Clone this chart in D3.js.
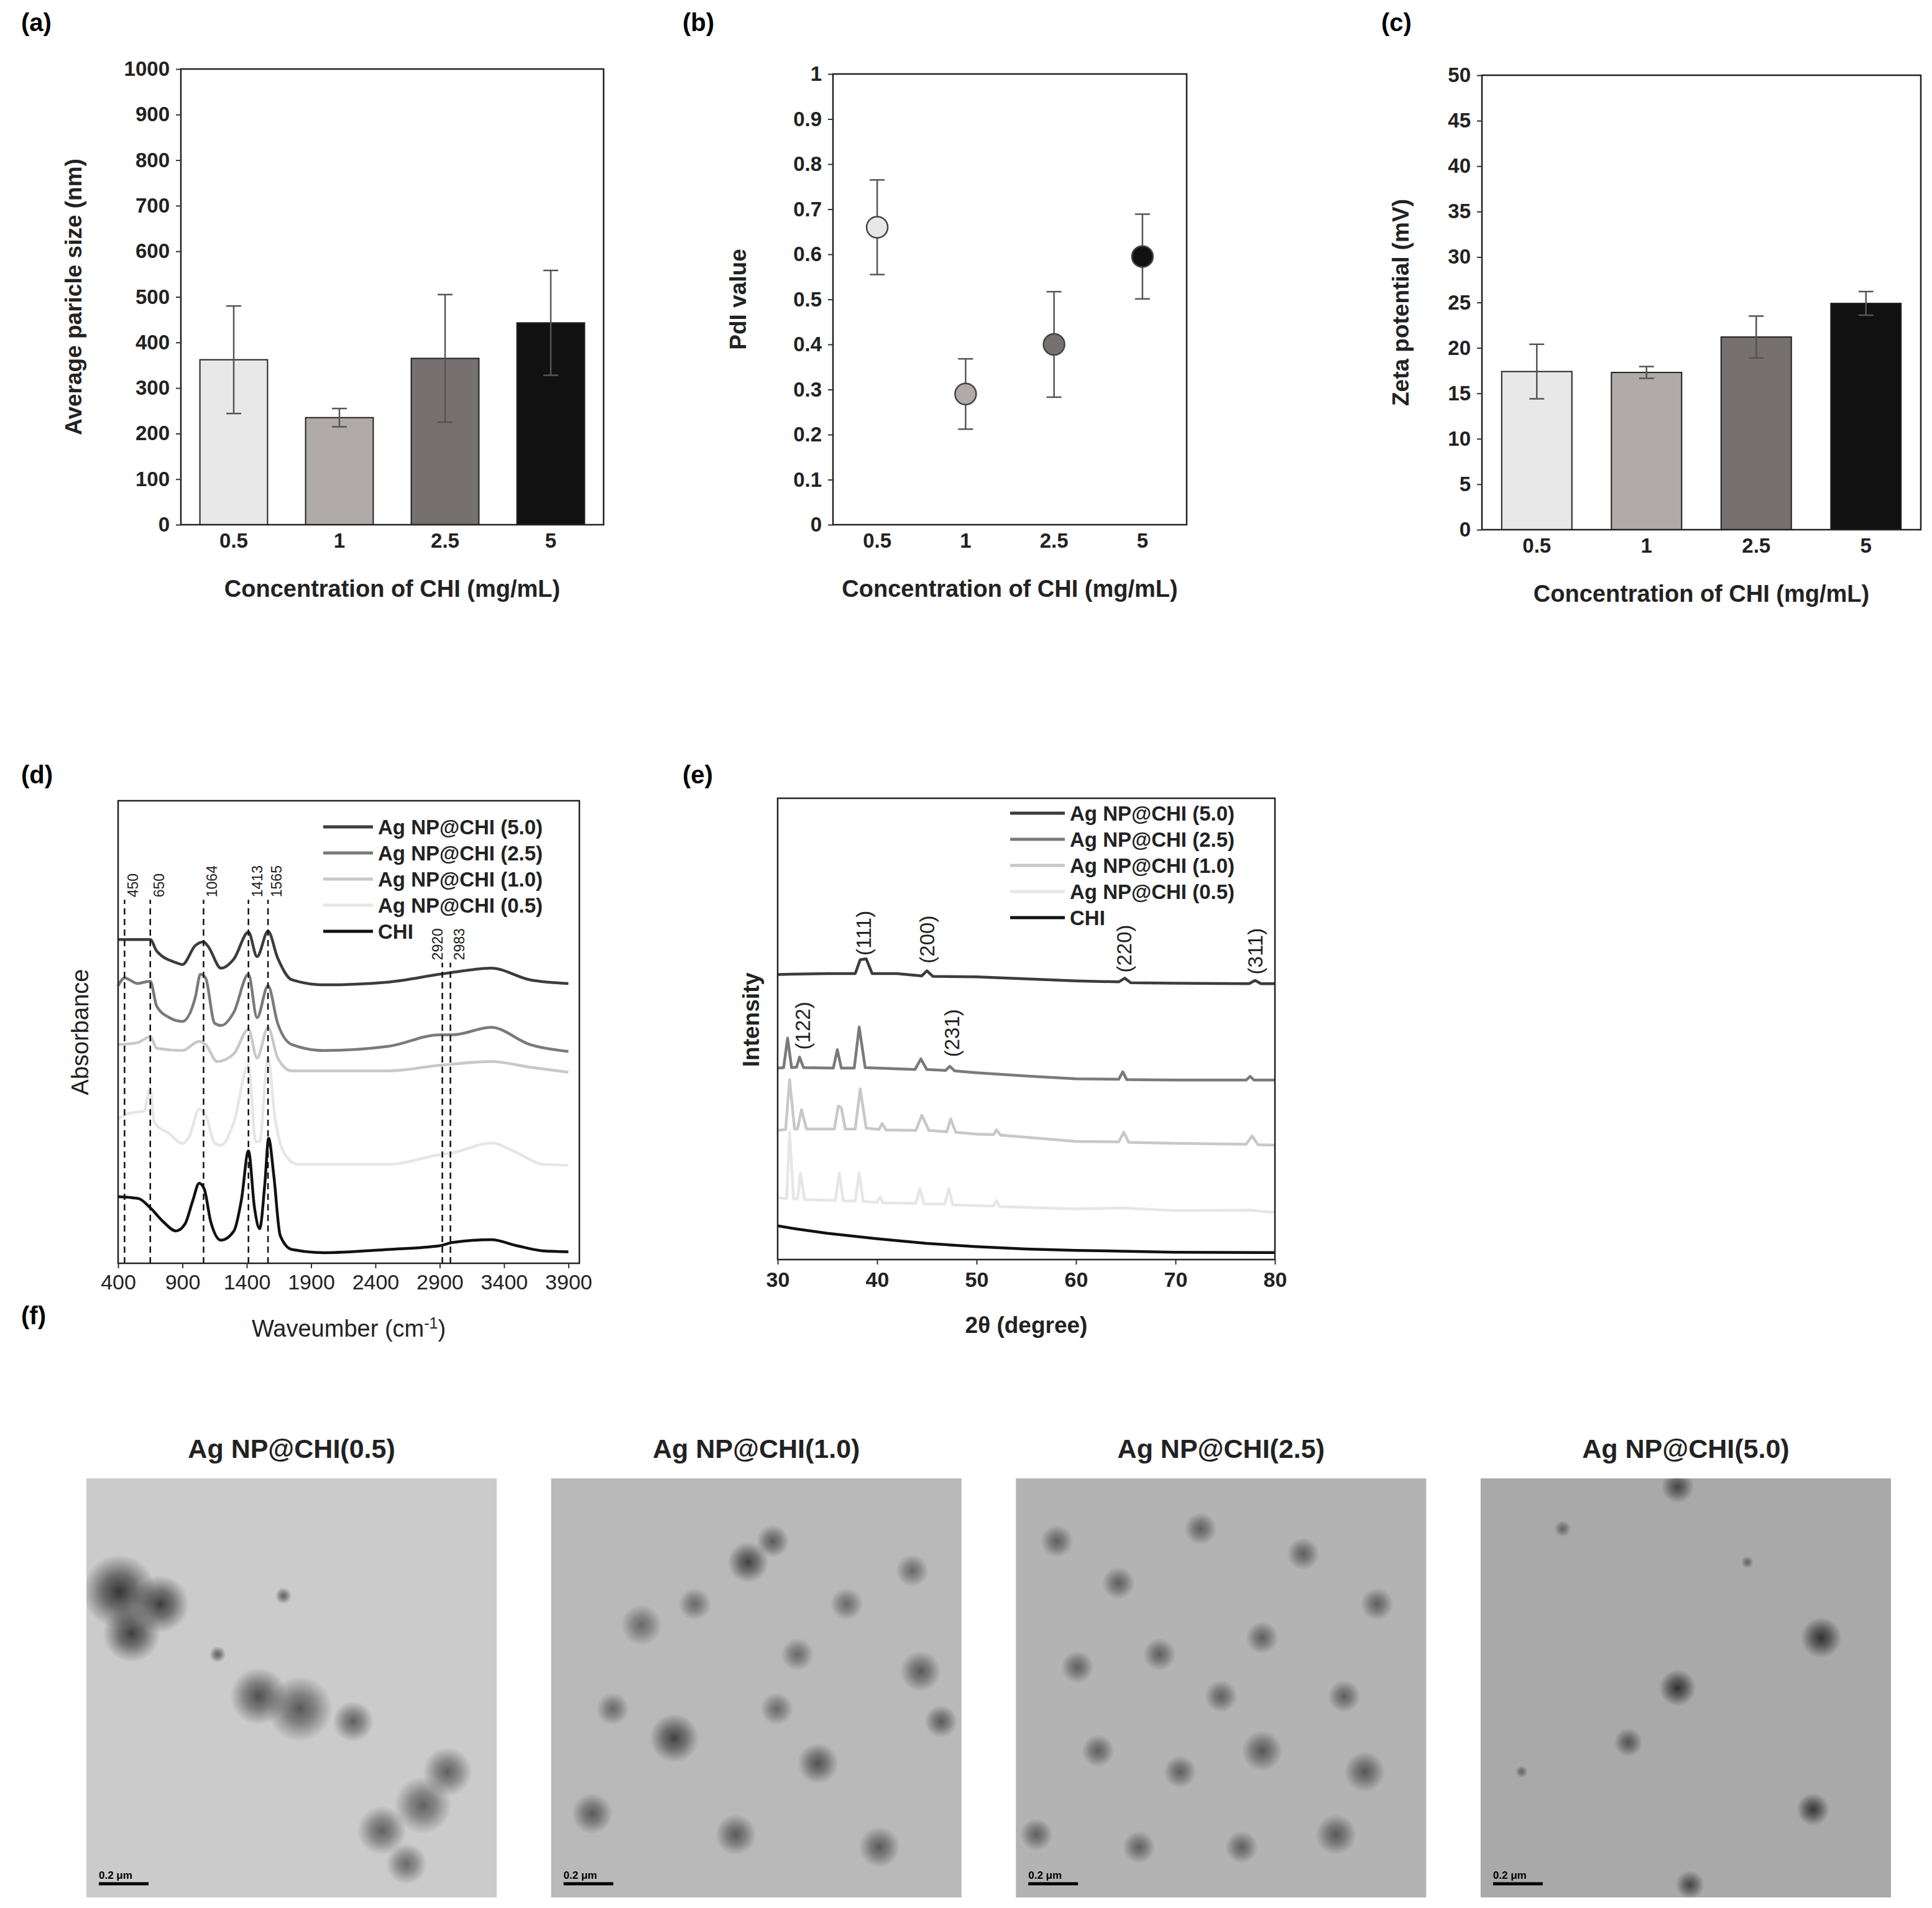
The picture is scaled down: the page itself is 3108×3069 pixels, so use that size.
<!DOCTYPE html>
<html><head><meta charset="utf-8">
<script src="https://cdn.jsdelivr.net/npm/d3@7"></script>
<style>body{margin:0;background:#fff}text{font-family:"Liberation Sans",Arial,sans-serif}</style>
</head><body><svg id="fig"></svg>
<script>
// ---- data ----
var concLabels = ["0.5", "1", "2.5", "5"];
var barColors = ["#e8e8e8", "#b0aaa8", "#767070", "#111111"];
var sizeMean = [362, 235, 365, 443];
var sizeErr = [118, 20, 140, 115];
var pdiMean = [0.66, 0.29, 0.40, 0.595];
var pdiErr = [0.105, 0.078, 0.117, 0.094];
var zetaMean = [17.4, 17.3, 21.2, 24.9];
var zetaErr = [3.0, 0.65, 2.3, 1.3];

var seriesNames = ["Ag NP@CHI (5.0)", "Ag NP@CHI (2.5)", "Ag NP@CHI (1.0)", "Ag NP@CHI (0.5)", "CHI"];
var seriesColors = ["#3c3c3c", "#7a7a7a", "#c8c8c8", "#e6e6e6", "#111111"];

// FTIR (wavenumber, absorbance a.u.)
var ftir50 = [[400,70],[600,70],[650,70],[700,67.5],[850,65],[900,64.6],[1000,68.7],[1064,69.5],[1100,68.5],[1200,63.8],[1300,65.8],[1413,71.6],[1480,66.3],[1565,71.8],[1640,66],[1750,61.3],[2000,60.2],[2500,60.8],[2900,62.5],[3000,62.9],[3300,63.8],[3600,61.3],[3900,60.5]];
var ftir25 = [[400,60],[450,61.7],[550,60.5],[650,61],[700,55.6],[800,53.1],[900,52.3],[1000,57.5],[1040,62.5],[1080,61.7],[1150,51.9],[1200,51.4],[1300,54.3],[1413,62.5],[1480,53.1],[1565,60],[1640,51.9],[1750,47.3],[2000,46],[2500,46.9],[2900,49.4],[3000,49.4],[3300,51],[3600,47.3],[3900,45.8]];
var ftir10 = [[400,47.3],[550,47.7],[650,49],[700,46.5],[900,46],[1030,48],[1080,47.3],[1170,43.6],[1300,45.3],[1413,50.6],[1480,44.4],[1565,51],[1640,44.4],[1750,41.6],[2500,41.6],[2900,42.8],[3300,43.6],[3600,42.4],[3900,41.3]];
var ftir05 = [[400,31.3],[500,32.5],[600,32.9],[650,37.9],[680,30.5],[800,28],[900,25.9],[950,27.2],[1030,33.3],[1080,32.1],[1150,26],[1200,25.5],[1300,30.5],[1413,42.8],[1470,26.3],[1500,26.3],[1565,44.4],[1620,31.3],[1700,23.4],[1800,21.4],[2500,21.4],[2900,23.5],[3000,23.9],[3300,26],[3500,23.9],[3700,21.4],[3900,21.2]];
var ftirCHI = [[400,14.4],[500,14.2],[560,14],[650,12],[750,9],[850,7],[920,8.5],[980,13.5],[1030,17.3],[1070,16],[1120,9],[1200,5],[1300,7],[1360,14],[1413,24.3],[1460,12],[1500,7.5],[1540,17],[1570,27],[1610,19],[1660,6],[1750,3],[2000,2.3],[2500,3],[2900,3.8],[3000,4.5],[3300,5.1],[3500,3.8],[3700,2.7],[3900,2.5]];
var ftirMarks = [450, 650, 1064, 1413, 1565];
var ftirMarksHigh = [2920, 2983];

// XRD (2theta, intensity a.u.)
var xrd50 = [[30,61.8],[35,62],[37.8,62],[38.3,65],[38.9,65.2],[39.5,62],[42,62],[44.5,61.5],[45,62.6],[45.6,61.4],[50,61.3],[60,60.4],[64.3,60.2],[64.9,61],[65.5,60],[70,59.9],[77.4,59.8],[78,60.5],[78.6,59.8],[80,59.8]];
var xrd25 = [[30,41.5],[30.6,41.6],[31,48],[31.4,41.6],[31.9,41.7],[32.2,43.9],[32.6,41.6],[35.6,41.5],[36,45.5],[36.4,41.5],[37.7,41.5],[38.2,50.4],[38.8,41.6],[43.8,41.2],[44.4,43.5],[45,41.2],[46.9,41],[47.3,41.9],[47.8,40.9],[50,40.5],[55,39.8],[60,39.2],[64.3,39.1],[64.7,40.7],[65.1,39],[70,38.9],[77.1,38.9],[77.5,39.7],[77.9,38.9],[80,38.9]];
var xrd10 = [[30,28],[30.8,28.2],[31.2,39],[31.7,28.3],[32,28.3],[32.4,32.5],[32.9,28.3],[35.7,28.3],[36.1,33.3],[36.4,32.9],[36.8,28.3],[37.8,28.3],[38.3,37],[38.9,28.5],[40.2,28.2],[40.5,29.5],[40.9,28.1],[43.9,28],[44.5,31.3],[45.2,28],[47,27.7],[47.4,30.5],[47.9,27.6],[50,27.2],[51.7,27.1],[52,28.1],[52.4,27],[60,25.6],[64.3,25.5],[64.8,27.6],[65.3,25.4],[70,25.2],[77.1,25],[77.7,26.8],[78.3,24.9],[80,24.8]];
var xrd05 = [[30,13.4],[30.9,13.2],[31.2,27.6],[31.6,13.2],[32,13.1],[32.3,18.7],[32.7,13],[35.8,12.8],[36.2,18.7],[36.6,12.7],[37.8,12.7],[38.2,18.7],[38.6,12.6],[40,12.4],[40.3,13.6],[40.6,12.3],[43.9,12.2],[44.3,15.4],[44.7,12.1],[46.8,12],[47.2,15.4],[47.6,11.9],[50,11.7],[51.7,11.6],[52,12.8],[52.3,11.5],[60,11],[64.7,11.2],[70,10.6],[77.5,10.7],[80,10.2]];
var xrdCHI = [[30,7.3],[32,6.6],[35,5.7],[40,4.5],[45,3.5],[50,2.8],[55,2.3],[60,2],[70,1.6],[80,1.5]];
var xrdPeaks = [["(111)",38.6,65.9],["(200)",45,64.2],["(220)",64.8,62.2],["(311)",78,61.8],["(122)",32.5,45.5],["(231)",47.5,43.9]];

// TEM panels: title, background grey, dark particle clusters [x%, y%, radius%, opacity]
var temTitles = ["Ag NP@CHI(0.5)", "Ag NP@CHI(1.0)", "Ag NP@CHI(2.5)", "Ag NP@CHI(5.0)"];
var temBackground = ["#cbcbcb", "#b9b9b9", "#b3b3b3", "#a9a9a9"];
var temBlobs = [
  [[8,27,9,0.85],[18,30,7,0.8],[11,37,7,0.8],[42,52,7,0.7],[52,55,8,0.65],[65,58,5,0.6],[88,70,6,0.6],[82,78,7,0.6],[72,84,6,0.6],[78,92,5,0.55],[48,28,2,0.6],[32,42,2,0.6]],
  [[48,20,5,0.75],[54,15,4,0.6],[88,22,4,0.5],[22,35,5,0.5],[60,42,4,0.5],[30,62,6,0.75],[65,68,5,0.65],[90,46,5,0.6],[95,58,4,0.6],[10,80,5,0.6],[45,85,5,0.6],[80,88,5,0.6],[35,30,4,0.5],[72,30,4,0.5],[15,55,4,0.5],[55,55,4,0.5]],
  [[10,15,4,0.55],[25,25,4,0.55],[45,12,4,0.55],[70,18,4,0.55],[88,30,4,0.55],[15,45,4,0.55],[35,42,4,0.55],[60,38,4,0.55],[80,52,4,0.55],[20,65,4,0.55],[40,70,4,0.55],[60,65,5,0.6],[85,70,5,0.6],[30,88,4,0.55],[55,88,4,0.55],[78,85,5,0.6],[50,52,4,0.55],[5,85,4,0.55]],
  [[48,2,4,0.7],[83,38,5,0.85],[48,50,4.5,0.85],[36,63,3.5,0.6],[81,79,4,0.8],[51,97,3.5,0.7],[20,12,2,0.5],[65,20,1.5,0.5],[10,70,1.5,0.5]]
];

// ---- drawing ----
var W = 3108, H = 3069;
var FONT = '"Liberation Sans",Arial,sans-serif';
var svg = d3.select("#fig").attr("width", W).attr("height", H);
svg.append("rect").attr("width", W).attr("height", H).attr("fill", "#fff");

function panelLabel(t, x, y) {
  svg.append("text").attr("x", x).attr("y", y).attr("font-size", 40).attr("font-weight", "bold").text(t);
}

function styleAxis(g, bold, size) {
  g.selectAll("text").attr("font-size", size).attr("font-weight", bold ? "bold" : "normal").attr("fill", "#222")
    .style("font-family", FONT);
  g.selectAll("line,path").attr("stroke", "#333").attr("stroke-width", 2);
}

function frame(g, w, h) {
  g.append("rect").attr("width", w).attr("height", h).attr("fill", "none").attr("stroke", "#222").attr("stroke-width", 2.5);
}

function errorBars(g, x, y, means, errs, cap) {
  var eg = g.append("g").attr("stroke", "#555").attr("stroke-width", 2.5);
  means.forEach(function(m, i) {
    var cx = x(concLabels[i]) + x.bandwidth() / 2;
    eg.append("line").attr("x1", cx).attr("x2", cx).attr("y1", y(m - errs[i])).attr("y2", y(m + errs[i]));
    [m - errs[i], m + errs[i]].forEach(function(v) {
      eg.append("line").attr("x1", cx - cap).attr("x2", cx + cap).attr("y1", y(v)).attr("y2", y(v));
    });
  });
}

function catPanel(opt) {
  var w = opt.x1 - opt.x0, h = opt.y1 - opt.y0;
  var g = svg.append("g").attr("transform", "translate(" + opt.x0 + "," + opt.y0 + ")");
  var x = d3.scaleBand().domain(concLabels).range([0, w]).paddingInner(0.36).paddingOuter(0.18);
  var y = d3.scaleLinear().domain([0, opt.max]).range([h, 0]);
  if (opt.type === "bar") {
    g.selectAll(".bar").data(opt.mean).enter().append("rect")
      .attr("x", function(d, i) { return x(concLabels[i]); })
      .attr("y", function(d) { return y(d); })
      .attr("width", x.bandwidth()).attr("height", function(d) { return h - y(d); })
      .attr("fill", function(d, i) { return barColors[i]; })
      .attr("stroke", "#222").attr("stroke-width", 2);
    errorBars(g, x, y, opt.mean, opt.err, 12);
  } else {
    errorBars(g, x, y, opt.mean, opt.err, 12);
    g.selectAll(".dot").data(opt.mean).enter().append("circle")
      .attr("cx", function(d, i) { return x(concLabels[i]) + x.bandwidth() / 2; })
      .attr("cy", function(d) { return y(d); }).attr("r", 17)
      .attr("fill", function(d, i) { return barColors[i]; })
      .attr("stroke", "#444").attr("stroke-width", 2.5);
  }
  frame(g, w, h);
  var ya = g.append("g").call(d3.axisLeft(y).ticks(10).tickSize(8).tickFormat(opt.fmt).tickPadding(10));
  styleAxis(ya, true, 33);
  ya.select(".domain").remove();
  var xa = g.append("g").attr("transform", "translate(0," + h + ")").call(d3.axisBottom(x).tickSize(0).tickPadding(14));
  styleAxis(xa, true, 33);
  xa.select(".domain").remove();
  g.append("text").attr("x", w / 2).attr("y", h + 116).attr("text-anchor", "middle")
    .attr("font-size", 38).attr("font-weight", "bold").attr("fill", "#222").text("Concentration of CHI (mg/mL)");
  g.append("text").attr("transform", "translate(" + (-opt.ytOff) + "," + (h / 2) + ") rotate(-90)")
    .attr("text-anchor", "middle").attr("font-size", 37).attr("font-weight", "bold").attr("fill", "#222").text(opt.ytitle);
}

panelLabel("(a)", 34, 50);
catPanel({x0: 291, x1: 971, y0: 111, y1: 844, type: "bar", max: 1000, mean: sizeMean, err: sizeErr,
  fmt: d3.format("d"), ytitle: "Average paricle size (nm)", ytOff: 160});
panelLabel("(b)", 1098, 50);
catPanel({x0: 1340, x1: 1909, y0: 119, y1: 844, type: "dot", max: 1, mean: pdiMean, err: pdiErr,
  fmt: function(d) { return d === 0 ? "0" : d === 1 ? "1" : d3.format(".1f")(d); }, ytitle: "PdI value", ytOff: 140});
panelLabel("(c)", 2222, 50);
catPanel({x0: 2384, x1: 3090, y0: 121, y1: 852, type: "bar", max: 50, mean: zetaMean, err: zetaErr,
  fmt: d3.format("d"), ytitle: "Zeta potential (mV)", ytOff: 118});

function legend(g, x0, y0, dy, lineLen, size, bold) {
  seriesNames.forEach(function(n, i) {
    var yy = y0 + i * dy;
    g.append("line").attr("x1", x0).attr("x2", x0 + lineLen).attr("y1", yy).attr("y2", yy)
      .attr("stroke", seriesColors[i]).attr("stroke-width", 5);
    g.append("text").attr("x", x0 + lineLen + 8).attr("y", yy + 12).attr("font-size", size)
      .attr("font-weight", bold ? "bold" : "normal").attr("fill", "#222").text(n);
  });
}

// (d) FTIR
(function() {
  var x0 = 190, x1 = 932, y0 = 1288, y1 = 2032, w = x1 - x0, h = y1 - y0;
  panelLabel("(d)", 34, 1260);
  var g = svg.append("g").attr("transform", "translate(" + x0 + "," + y0 + ")");
  var x = d3.scaleLinear().domain([400, 3900 + 85]).range([0, w]);
  var y = d3.scaleLinear().domain([0, 100]).range([h, 0]);
  var line = d3.line().x(function(d) { return x(d[0]); }).y(function(d) { return y(d[1]); }).curve(d3.curveMonotoneX);
  [ftir50, ftir25, ftir10, ftir05, ftirCHI].forEach(function(s, i) {
    g.append("path").datum(s).attr("d", line).attr("fill", "none").attr("stroke", seriesColors[i]).attr("stroke-width", 4.5);
  });
  function mark(v, top, dx) {
    g.append("line").attr("x1", x(v)).attr("x2", x(v)).attr("y1", h).attr("y2", y(top))
      .attr("stroke", "#111").attr("stroke-width", 2.5).attr("stroke-dasharray", "10,7");
    g.append("text").attr("transform", "translate(" + (x(v) + dx) + "," + (y(top) - 4) + ") rotate(-90)")
      .attr("font-size", 23).attr("fill", "#222").text(v);
  }
  ftirMarks.forEach(function(v) { mark(v, 78.6, 22); });
  mark(ftirMarksHigh[0], 65, 0);
  mark(ftirMarksHigh[1], 65, 22);
  frame(g, w, h);
  var xa = g.append("g").attr("transform", "translate(0," + h + ")")
    .call(d3.axisBottom(x).tickValues([400, 900, 1400, 1900, 2400, 2900, 3400, 3900]).tickSize(8).tickFormat(d3.format("d")).tickPadding(10));
  styleAxis(xa, false, 34);
  xa.select(".domain").remove();
  g.append("text").attr("x", w / 2).attr("y", h + 118).attr("text-anchor", "middle").attr("font-size", 38).attr("fill", "#222")
    .html('Waveumber (cm<tspan dy="-13" font-size="25">-1</tspan><tspan dy="13">)</tspan>');
  g.append("text").attr("transform", "translate(-48," + (h / 2) + ") rotate(-90)").attr("text-anchor", "middle")
    .attr("font-size", 38).attr("fill", "#222").text("Absorbance");
  legend(g, 330, 42, 42, 80, 33, true);
})();

// (e) XRD
(function() {
  var x0 = 1251, x1 = 2051, y0 = 1284, y1 = 2026, w = x1 - x0, h = y1 - y0;
  panelLabel("(e)", 1098, 1260);
  var g = svg.append("g").attr("transform", "translate(" + x0 + "," + y0 + ")");
  var x = d3.scaleLinear().domain([30, 80]).range([0, w]);
  var y = d3.scaleLinear().domain([0, 100]).range([h, 0]);
  var line = d3.line().x(function(d) { return x(d[0]); }).y(function(d) { return y(d[1]); });
  [xrd50, xrd25, xrd10, xrd05, xrdCHI].forEach(function(s, i) {
    g.append("path").datum(s).attr("d", line).attr("fill", "none").attr("stroke", seriesColors[i])
      .attr("stroke-width", 4.5).attr("stroke-linejoin", "round");
  });
  xrdPeaks.forEach(function(p) {
    g.append("text").attr("transform", "translate(" + (x(p[1]) + 12) + "," + y(p[2]) + ") rotate(-90)")
      .attr("font-size", 33).attr("fill", "#222").text(p[0]);
  });
  frame(g, w, h);
  var xa = g.append("g").attr("transform", "translate(0," + h + ")")
    .call(d3.axisBottom(x).ticks(5).tickSize(8).tickPadding(12));
  styleAxis(xa, true, 34);
  xa.select(".domain").remove();
  g.append("text").attr("x", w / 2).attr("y", h + 118).attr("text-anchor", "middle").attr("font-size", 37)
    .attr("font-weight", "bold").attr("fill", "#222").text("2θ (degree)");
  g.append("text").attr("transform", "translate(-30," + (h * 0.48) + ") rotate(-90)").attr("text-anchor", "middle")
    .attr("font-size", 37).attr("font-weight", "bold").attr("fill", "#222").text("Intensity");
  legend(g, 374, 24, 42, 88, 33, true);
})();

// (f) TEM
panelLabel("(f)", 34, 2130);
var temX = d3.scaleBand().domain(temTitles).range([139, 3042]).paddingInner(0.117);
var temY0 = 2378, temH = 674;
var defs = svg.append("defs");
var grad = defs.append("radialGradient").attr("id", "blob");
grad.append("stop").attr("offset", "0%").attr("stop-color", "#1a1a1a").attr("stop-opacity", 1);
grad.append("stop").attr("offset", "45%").attr("stop-color", "#2a2a2a").attr("stop-opacity", 0.7);
grad.append("stop").attr("offset", "100%").attr("stop-color", "#333").attr("stop-opacity", 0);
temTitles.forEach(function(t, i) {
  var bx = temX(t), bw = temX.bandwidth();
  var g = svg.append("g").attr("transform", "translate(" + bx + "," + temY0 + ")");
  defs.append("clipPath").attr("id", "clip" + i).append("rect").attr("width", bw).attr("height", temH);
  var sx = d3.scaleLinear().domain([0, 100]).range([0, bw]);
  var sy = d3.scaleLinear().domain([0, 100]).range([0, temH]);
  g.append("rect").attr("width", bw).attr("height", temH).attr("fill", temBackground[i]);
  g.append("g").attr("clip-path", "url(#clip" + i + ")").selectAll("circle").data(temBlobs[i]).enter().append("circle")
    .attr("cx", function(d) { return sx(d[0]); }).attr("cy", function(d) { return sy(d[1]); })
    .attr("r", function(d) { return sx(d[2]); }).attr("fill", "url(#blob)").attr("opacity", function(d) { return d[3]; });
  g.append("line").attr("x1", 20).attr("x2", 100).attr("y1", temH - 22).attr("y2", temH - 22).attr("stroke", "#000").attr("stroke-width", 5);
  g.append("text").attr("x", 20).attr("y", temH - 30).attr("font-size", 17).attr("font-weight", "bold").text("0.2 μm");
  svg.append("text").attr("x", bx + bw / 2).attr("y", 2345).attr("text-anchor", "middle").attr("font-size", 43)
    .attr("font-weight", "bold").attr("fill", "#222").text(t);
});
</script></body></html>
